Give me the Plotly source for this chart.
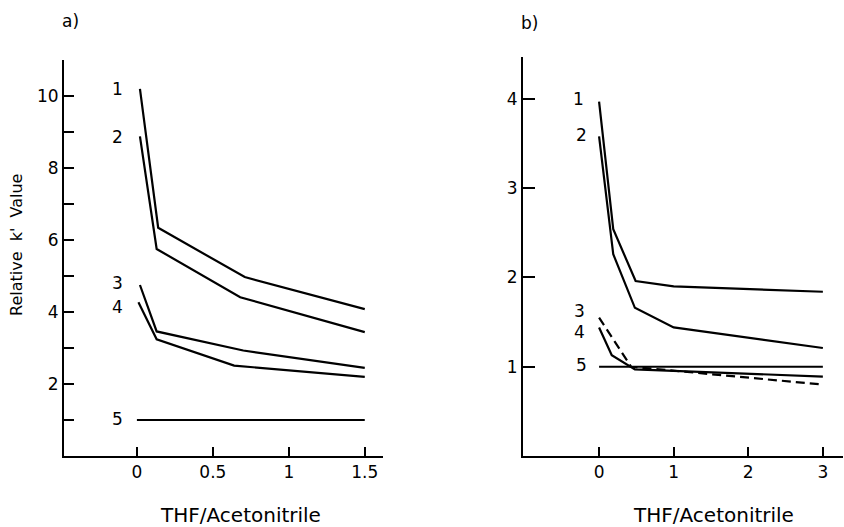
import plotly.graph_objects as go

# ---------------- data ----------------
# Panel a) THF/Acetonitrile (0 - 1.5)
a_series_names = ["1", "2", "3", "4", "5"]
a1_x = [0.02, 0.14, 0.71, 1.5]
a1_y = [10.2, 6.34, 4.97, 4.08]
a2_x = [0.02, 0.13, 0.68, 1.5]
a2_y = [8.88, 5.75, 4.41, 3.44]
a3_x = [0.02, 0.13, 0.70, 1.5]
a3_y = [4.75, 3.46, 2.93, 2.45]
a4_x = [0.01, 0.13, 0.64, 1.5]
a4_y = [4.27, 3.24, 2.51, 2.20]
a5_x = [0.0, 1.5]
a5_y = [1.0, 1.0]

# Panel b) THF/Acetonitrile (0 - 3)
b1_x = [0.0, 0.19, 0.49, 1.0, 3.0]
b1_y = [3.97, 2.54, 1.96, 1.90, 1.84]
b2_x = [0.0, 0.19, 0.48, 1.0, 3.0]
b2_y = [3.58, 2.26, 1.66, 1.44, 1.21]
b3_x = [0.0, 0.43, 3.0]          # dashed
b3_y = [1.55, 1.0, 0.80]
b4_x = [0.0, 0.17, 0.48, 3.0]
b4_y = [1.44, 1.13, 0.97, 0.89]
b5_x = [0.0, 3.0]
b5_y = [1.0, 1.0]

a_tickvals_x = [0, 0.5, 1, 1.5]
a_ticktext_x = ["0", "0.5", "1", "1.5"]
a_tickvals_y = [1, 2, 3, 4, 5, 6, 7, 8, 9, 10, 11]
a_ticktext_y = ["", "2", "", "4", "", "6", "", "8", "", "10", ""]
b_tickvals_x = [0, 1, 2, 3]
b_ticktext_x = ["0", "1", "2", "3"]
b_tickvals_y = [1, 2, 3, 4]
b_ticktext_y = ["1", "2", "3", "4"]

# curve label positions (layout only)
a_label_x = -0.13
a_label_y = [10.2, 8.86, 4.8, 4.14, 1.03]
b_label_x = [-0.27, -0.24, -0.26, -0.26, -0.24]
b_label_y = [4.0, 3.6, 1.62, 1.39, 1.02]

FONT = "DejaVu Sans"
W, H = 844, 527

def px_x(p):
    return p / W

def px_y(p):
    return 1 - p / H

fig = go.Figure()
line = dict(color="black", width=2.2)

for xs, ys in [(a1_x, a1_y), (a2_x, a2_y), (a3_x, a3_y), (a4_x, a4_y), (a5_x, a5_y)]:
    fig.add_trace(go.Scatter(x=xs, y=ys, mode="lines", line=line,
                             xaxis="x", yaxis="y", showlegend=False, hoverinfo="skip"))

for xs, ys, dash in [(b1_x, b1_y, "solid"), (b2_x, b2_y, "solid"), (b3_x, b3_y, "9px,5px"),
                     (b4_x, b4_y, "solid"), (b5_x, b5_y, "solid")]:
    fig.add_trace(go.Scatter(x=xs, y=ys, mode="lines",
                             line=dict(color="black", width=2.2, dash=dash),
                             xaxis="x2", yaxis="y2", showlegend=False, hoverinfo="skip"))

axis_common = dict(showgrid=False, zeroline=False, showline=True, linecolor="black",
                   linewidth=2, ticks="inside", tickcolor="black", tickwidth=2,
                   tickfont=dict(family=FONT, size=17, color="black"), fixedrange=True)

fig.update_layout(
    width=W, height=H,
    margin=dict(l=0, r=0, t=0, b=0),
    paper_bgcolor="white", plot_bgcolor="white",
    xaxis=dict(domain=[px_x(64), px_x(383)], range=[-0.48, 1.62], anchor="y",
               tickvals=a_tickvals_x, ticktext=a_ticktext_x, ticklen=9, **axis_common),
    yaxis=dict(domain=[px_y(456), px_y(60)], range=[0, 11], anchor="x",
               tickvals=a_tickvals_y, ticktext=a_ticktext_y, ticklen=10, **axis_common),
    xaxis2=dict(domain=[px_x(523), px_x(843)], range=[-1.02, 3.27], anchor="y2",
                tickvals=b_tickvals_x, ticktext=b_ticktext_x, ticklen=9, **axis_common),
    yaxis2=dict(domain=[px_y(456), px_y(57)], range=[0, 4.47], anchor="x2",
                tickvals=b_tickvals_y, ticktext=b_ticktext_y, ticklen=12, **axis_common),
)

ann = []
lab_font = dict(family=FONT, size=17, color="black")
for name, yy in zip(a_series_names, a_label_y):
    ann.append(dict(x=a_label_x, y=yy, xref="x", yref="y", text=name, showarrow=False,
                    font=lab_font, xanchor="center", yanchor="middle"))
for name, xx, yy in zip(a_series_names, b_label_x, b_label_y):
    ann.append(dict(x=xx, y=yy, xref="x2", yref="y2", text=name, showarrow=False,
                    font=lab_font, xanchor="center", yanchor="middle"))

big = dict(family=FONT, size=17, color="black")
ann.append(dict(x=px_x(70), y=px_y(21), xref="paper", yref="paper", text="a)",
                showarrow=False, font=big, xanchor="center", yanchor="middle"))
ann.append(dict(x=px_x(529), y=px_y(23), xref="paper", yref="paper", text="b)",
                showarrow=False, font=big, xanchor="center", yanchor="middle"))
ann.append(dict(x=px_x(241), y=px_y(515), xref="paper", yref="paper",
                text="THF/Acetonitrile", showarrow=False, xanchor="center", yanchor="middle",
                font=dict(family=FONT, size=20, color="black")))
ann.append(dict(x=px_x(713), y=px_y(515), xref="paper", yref="paper",
                text="THF/Acetonitrile", showarrow=False, xanchor="center", yanchor="middle",
                font=dict(family=FONT, size=20, color="black")))
ann.append(dict(x=px_x(17), y=px_y(245), xref="paper", yref="paper",
                text="Relative\u00a0\u00a0k'\u00a0\u00a0Value", textangle=-90, showarrow=False,
                xanchor="center", yanchor="middle",
                font=dict(family=FONT, size=16, color="black")))
fig.update_layout(annotations=ann)

fig.write_html("out.html")
